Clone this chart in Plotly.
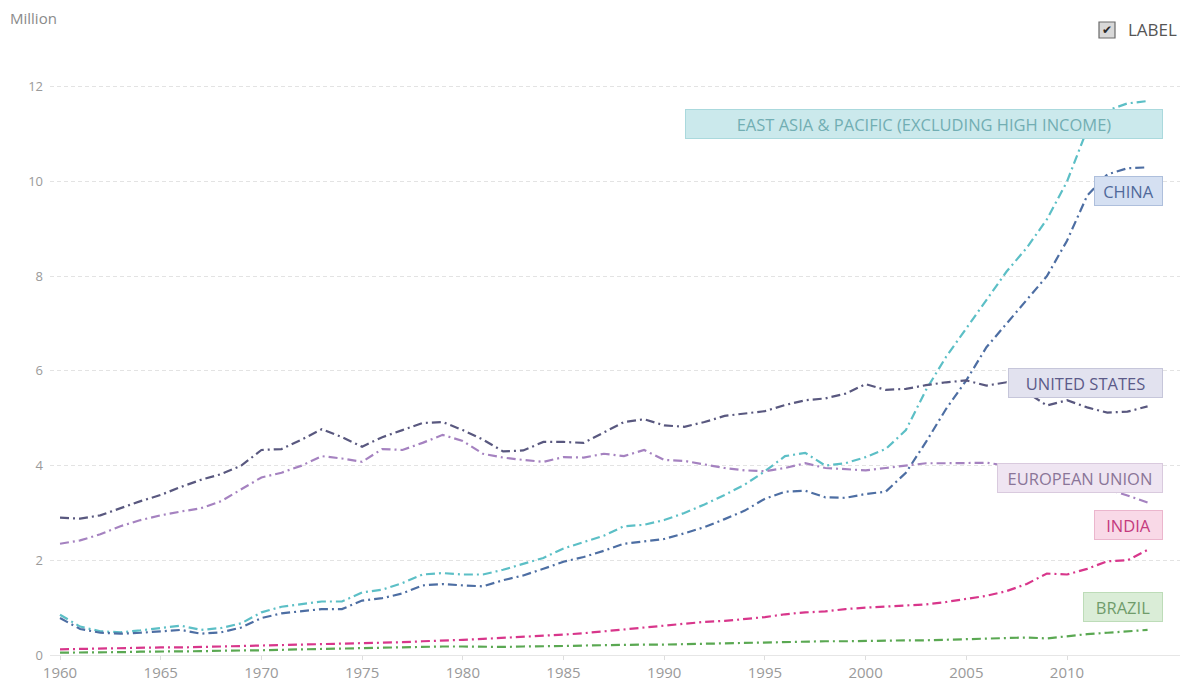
import plotly.graph_objects as go

years = list(range(1960, 2015))

east_asia = [0.85, 0.60, 0.50, 0.48, 0.52, 0.57, 0.62, 0.53, 0.57, 0.67,
             0.90, 1.02, 1.08, 1.13, 1.13, 1.32, 1.38, 1.52, 1.70, 1.73,
             1.70, 1.70, 1.80, 1.92, 2.05, 2.25, 2.38, 2.52, 2.72, 2.75,
             2.85, 3.00, 3.18, 3.38, 3.60, 3.88, 4.20, 4.27, 4.00, 4.05,
             4.18, 4.35, 4.75, 5.60, 6.30, 6.90, 7.50, 8.10, 8.60, 9.20,
             10.00, 11.10, 11.50, 11.65, 11.70]

china = [0.78, 0.55, 0.47, 0.45, 0.47, 0.50, 0.53, 0.45, 0.48, 0.58,
         0.78, 0.88, 0.93, 0.97, 0.97, 1.15, 1.20, 1.30, 1.47, 1.50,
         1.47, 1.45, 1.58, 1.68, 1.82, 1.97, 2.07, 2.20, 2.35, 2.40,
         2.45, 2.57, 2.70, 2.87, 3.05, 3.30, 3.45, 3.47, 3.33, 3.32,
         3.40, 3.45, 3.85, 4.50, 5.20, 5.80, 6.50, 7.00, 7.50, 8.00,
         8.75, 9.70, 10.15, 10.28, 10.30]

united_states = [2.90, 2.88, 2.95, 3.10, 3.25, 3.38, 3.55, 3.70, 3.82, 4.00,
                 4.33, 4.35, 4.55, 4.77, 4.60, 4.40, 4.60, 4.75, 4.90, 4.92,
                 4.75, 4.55, 4.30, 4.32, 4.50, 4.50, 4.48, 4.70, 4.92, 4.98,
                 4.85, 4.82, 4.92, 5.05, 5.10, 5.15, 5.28, 5.38, 5.42, 5.52,
                 5.72, 5.60, 5.62, 5.70, 5.76, 5.80, 5.69, 5.76, 5.55, 5.27,
                 5.38, 5.23, 5.12, 5.14, 5.25]

european_union = [2.35, 2.42, 2.55, 2.72, 2.85, 2.95, 3.03, 3.10, 3.25, 3.50,
                  3.75, 3.85, 4.00, 4.20, 4.15, 4.08, 4.35, 4.33, 4.48, 4.65,
                  4.52, 4.25, 4.17, 4.12, 4.08, 4.18, 4.17, 4.25, 4.20, 4.33,
                  4.12, 4.10, 4.02, 3.95, 3.90, 3.88, 3.95, 4.05, 3.95, 3.93,
                  3.90, 3.95, 4.00, 4.05, 4.05, 4.05, 4.06, 4.00, 3.95, 3.70,
                  3.70, 3.65, 3.50, 3.37, 3.22]

india = [0.12, 0.13, 0.14, 0.15, 0.15, 0.16, 0.16, 0.17, 0.18, 0.19,
         0.19, 0.20, 0.21, 0.22, 0.23, 0.24, 0.26, 0.27, 0.29, 0.30,
         0.32, 0.34, 0.36, 0.38, 0.40, 0.43, 0.46, 0.50, 0.54, 0.58,
         0.62, 0.66, 0.70, 0.72, 0.76, 0.80, 0.86, 0.90, 0.92, 0.97,
         1.00, 1.02, 1.04, 1.07, 1.12, 1.18, 1.25, 1.35, 1.50, 1.72,
         1.70, 1.82, 1.98, 2.00, 2.22]

brazil = [0.05, 0.05, 0.06, 0.06, 0.07, 0.07, 0.08, 0.08, 0.09, 0.09,
          0.10, 0.11, 0.12, 0.13, 0.14, 0.15, 0.16, 0.16, 0.17, 0.18,
          0.18, 0.17, 0.17, 0.18, 0.18, 0.19, 0.20, 0.21, 0.21, 0.22,
          0.22, 0.23, 0.23, 0.24, 0.25, 0.26, 0.27, 0.28, 0.29, 0.29,
          0.30, 0.30, 0.31, 0.31, 0.32, 0.33, 0.34, 0.35, 0.37, 0.35,
          0.40, 0.44, 0.47, 0.50, 0.53]

# name, values, line colour, label fill, label border, label text, label centre (value), label width (px)
series = [
    ("EAST ASIA & PACIFIC (EXCLUDING HIGH INCOME)", east_asia, "#5cbfc6",
     "#cbe9ec", "#aad9dd", "#72aeb3", 11.22, 478),
    ("CHINA", china, "#4d6ea3", "#d5e0f2", "#aebfdc", "#50699a", 9.80, 69),
    ("UNITED STATES", united_states, "#59587f", "#e2e2ef", "#c6c6da", "#5c5b89", 5.75, 155),
    ("EUROPEAN UNION", european_union, "#a582c0", "#efe5f2", "#d9cade", "#8a7598", 3.74, 166),
    ("INDIA", india, "#d8368b", "#f9d9e7", "#ebb6cd", "#c43b7e", 2.75, 69),
    ("BRAZIL", brazil, "#5aa852", "#daedd7", "#bddcb8", "#709c6b", 1.01, 80),
]

W, H = 1184, 684
L, R, T, B = 50, 4, 75, 29
pw, ph = W - L - R, H - T - B


def px_to_paper(x, y):
    return (x - L) / pw, (H - B - y) / ph


fig = go.Figure()
annotations = []
for name, vals, color, bg, border, txt, ypos, w in series:
    fig.add_trace(go.Scatter(
        x=years, y=vals, mode="lines", name=name,
        line=dict(color=color, width=2.2, dash="9px,4px,2px,4px"),
        hoverinfo="skip",
    ))
    annotations.append(dict(
        x=2014.77, y=ypos, xref="x", yref="y", xanchor="right", yanchor="middle",
        text=name, showarrow=False, width=w - 2, height=28,
        bgcolor=bg, bordercolor=border, borderwidth=1, borderpad=0,
        font=dict(family="Open Sans", size=16.5, color=txt),
    ))

# header: unit caption and label toggle
mx, my = px_to_paper(8, 18)
annotations.append(dict(
    x=mx, y=my, xref="paper", yref="paper", text="Million", showarrow=False,
    xanchor="left", yanchor="middle",
    font=dict(family="Open Sans", size=15, color="#8a8a8a"),
))
lx, ly = px_to_paper(1126, 30)
annotations.append(dict(
    x=lx, y=ly, xref="paper", yref="paper", text="LABEL", showarrow=False,
    xanchor="left", yanchor="middle",
    font=dict(family="Open Sans", size=17, color="#555555"),
))
cx, cy = px_to_paper(1107, 30)
annotations.append(dict(
    x=cx, y=cy, xref="paper", yref="paper", text="✔", showarrow=False,
    xanchor="center", yanchor="middle",
    font=dict(family="DejaVu Sans", size=12, color="#2a2a2a"),
))
x0, y0 = px_to_paper(1099, 38)
x1, y1 = px_to_paper(1115, 22)
fig.add_shape(type="rect", xref="paper", yref="paper", x0=x0, x1=x1, y0=y0, y1=y1,
              line=dict(color="#6a6a6a", width=1.2), fillcolor="#d8d8d8")

fig.update_layout(
    width=W, height=H,
    margin=dict(l=L, r=R, t=T, b=B),
    paper_bgcolor="white", plot_bgcolor="white",
    showlegend=False,
    annotations=annotations,
    font=dict(family="Open Sans"),
    xaxis=dict(
        range=[1959.503, 2015.61], tickvals=list(range(1960, 2015, 5)),
        showgrid=False, showline=True, linecolor="#e6e6e6", linewidth=1,
        ticks="outside", ticklen=4, tickcolor="#dddddd",
        tickfont=dict(family="Open Sans", size=15, color="#9a9a9a"),
        zeroline=False, automargin=False,
    ),
    yaxis=dict(
        range=[0, 12.25], tickvals=[0, 2, 4, 6, 8, 10, 12],
        showgrid=True, gridcolor="#e3e3e3", griddash="4px,3px", gridwidth=1,
        zeroline=False, showline=False, ticks="",
        tickfont=dict(family="Open Sans", size=13, color="#9a9a9a"),
        ticklabelstandoff=6, automargin=False,
    ),
)

fig.write_html("out.html")
